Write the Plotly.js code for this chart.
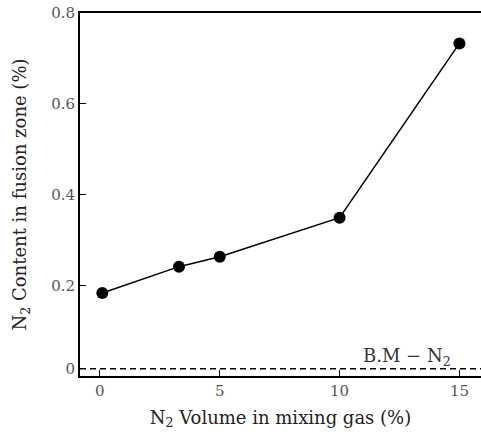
<!DOCTYPE html>
<html>
<head>
<meta charset="utf-8">
<script src="https://cdn.plot.ly/plotly-3.0.1.min.js"></script>
<style>html,body{margin:0;padding:0;background:#fff}#chart{width:481px;height:439px}</style>
</head>
<body>
<div id="chart"></div>
<script>
const n2Volume = [0.1, 3.3, 5.0, 10.0, 15.0];
const n2Content = [0.183, 0.241, 0.263, 0.349, 0.733];
const baseMetalN2 = 0.016;
const xTickVals = [0, 5, 10, 15];
const xTickText = ['0', '5', '10', '15'];
const yTickVals = [baseMetalN2, 0.2, 0.4, 0.6, 0.8];
const yTickText = ['0', '0.2', '0.4', '0.6', '0.8'];
const xRange = [-0.83, 15.9];
const yRange = [0, 0.8];

const font = 'DejaVu Serif, Liberation Serif, serif';

const traces = [
  {
    x: n2Volume, y: n2Content, type: 'scatter', mode: 'lines+markers',
    line: {color: '#000', width: 1.5},
    marker: {color: '#000', size: 12},
    showlegend: false, hoverinfo: 'skip'
  },
  {
    x: xRange, y: [baseMetalN2, baseMetalN2], type: 'scatter', mode: 'lines',
    line: {color: '#000', width: 1.5, dash: '6px,4px'},
    showlegend: false, hoverinfo: 'skip'
  }
];

const layout = {
  width: 481, height: 439,
  margin: {l: 80, r: 0, t: 13, b: 63},
  paper_bgcolor: '#fff', plot_bgcolor: '#fff',
  font: {family: font, color: '#333', size: 14},
  xaxis: {
    range: xRange, tickvals: xTickVals, ticktext: xTickText,
    ticks: 'inside', ticklen: 6, tickcolor: '#000', tickwidth: 1,
    showline: true, linecolor: '#000', linewidth: 2, mirror: true,
    showgrid: false, zeroline: false,
    tickfont: {family: font, size: 15, color: '#555'},
    title: {text: 'N<sub>2</sub> Volume in mixing gas (%)', font: {family: font, size: 18, color: '#222'}, standoff: 12}
  },
  yaxis: {
    range: yRange, tickvals: yTickVals, ticktext: yTickText,
    ticks: 'inside', ticklen: 6, tickcolor: '#000', tickwidth: 1,
    showline: true, linecolor: '#000', linewidth: 2,
    showgrid: false, zeroline: false,
    tickfont: {family: font, size: 15, color: '#555'},
    title: {text: 'N<sub>2</sub> Content in fusion zone (%)', font: {family: font, size: 18, color: '#222'}, standoff: 20}
  },
  annotations: [{
    x: 14.75, y: baseMetalN2, xref: 'x', yref: 'y',
    xanchor: 'right', yanchor: 'bottom', yshift: -2,
    text: 'B.M − N<sub>2</sub>', showarrow: false,
    font: {family: font, size: 18, color: '#333'}
  }]
};

Plotly.newPlot('chart', traces, layout, {staticPlot: true, displayModeBar: false});
</script>
</body>
</html>
